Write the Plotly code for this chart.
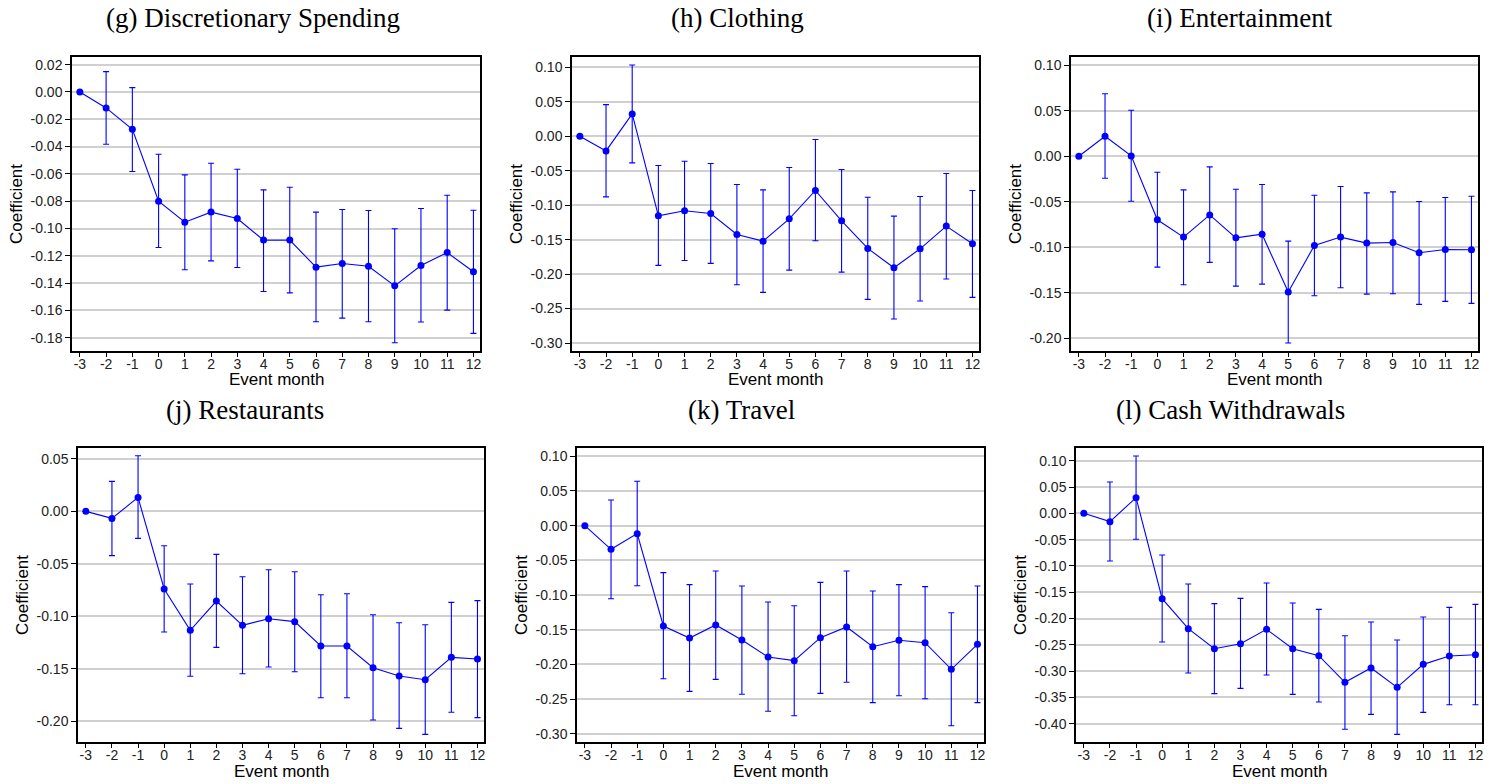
import plotly.graph_objects as go

W, H = 1497, 784

months = [-3, -2, -1, 0, 1, 2, 3, 4, 5, 6, 7, 8, 9, 10, 11, 12]
x_tick_text = ["-3", "-2", "-1", "0", "1", "2", "3", "4", "5", "6", "7", "8", "9", "10", "11", "12"]

titles = ["(g) Discretionary Spending", "(h) Clothing", "(i) Entertainment",
          "(j) Restaurants", "(k) Travel", "(l) Cash Withdrawals"]

# (g) Discretionary Spending
g_coef = [0, -0.0117, -0.0273, -0.080, -0.0954, -0.088, -0.0927, -0.1085, -0.1085, -0.1283, -0.1256, -0.1276, -0.1420, -0.1271, -0.1176, -0.1317]
g_up = [None, 0.0149, 0.0032, -0.0456, -0.0607, -0.0522, -0.0566, -0.0717, -0.0698, -0.0880, -0.0861, -0.0868, -0.1002, -0.0854, -0.0756, -0.0866]
g_lo = [None, -0.0383, -0.0583, -0.1139, -0.1302, -0.1237, -0.1285, -0.1461, -0.1471, -0.1683, -0.1656, -0.1683, -0.1837, -0.1685, -0.1598, -0.1768]
g_ticks = [0.02, 0.00, -0.02, -0.04, -0.06, -0.08, -0.10, -0.12, -0.14, -0.16, -0.18]

# (h) Clothing
h_coef = [0, -0.0213, 0.0324, -0.1155, -0.1082, -0.1121, -0.1425, -0.1522, -0.1198, -0.0787, -0.1227, -0.1628, -0.1908, -0.1633, -0.1304, -0.1560]
h_up = [None, 0.0459, 0.1034, -0.0425, -0.0362, -0.0396, -0.0700, -0.0778, -0.0454, -0.0048, -0.0483, -0.0884, -0.1159, -0.0874, -0.0541, -0.0787]
h_lo = [None, -0.0879, -0.0386, -0.1874, -0.1802, -0.1845, -0.2155, -0.2266, -0.1942, -0.1517, -0.1971, -0.2367, -0.2652, -0.2391, -0.2072, -0.2338]
h_ticks = [0.10, 0.05, 0.00, -0.05, -0.10, -0.15, -0.20, -0.25, -0.30]

# (i) Entertainment
i_coef = [0, 0.0219, 0.0004, -0.0698, -0.0888, -0.0644, -0.0896, -0.0856, -0.1492, -0.0980, -0.0888, -0.0954, -0.0947, -0.1060, -0.1024, -0.1027]
i_up = [None, 0.0687, 0.0505, -0.0176, -0.0369, -0.0117, -0.0362, -0.0311, -0.0932, -0.0428, -0.0333, -0.0402, -0.0391, -0.0497, -0.0453, -0.0439]
i_lo = [None, -0.0241, -0.0494, -0.1218, -0.1411, -0.1166, -0.1426, -0.1404, -0.2051, -0.1532, -0.1444, -0.1514, -0.1510, -0.1627, -0.1594, -0.1616]
i_ticks = [0.10, 0.05, 0.00, -0.05, -0.10, -0.15, -0.20]

# (j) Restaurants
j_coef = [0, -0.0067, 0.0133, -0.0740, -0.1134, -0.0855, -0.1086, -0.1023, -0.1051, -0.1283, -0.1283, -0.1490, -0.1569, -0.1604, -0.1391, -0.1407]
j_up = [None, 0.0286, 0.0530, -0.0327, -0.0692, -0.0410, -0.0623, -0.0556, -0.0575, -0.0794, -0.0785, -0.0985, -0.1061, -0.1080, -0.0867, -0.0851]
j_lo = [None, -0.0422, -0.0257, -0.1150, -0.1572, -0.1296, -0.1547, -0.1483, -0.1528, -0.1776, -0.1776, -0.1989, -0.2068, -0.2125, -0.1915, -0.1966]
j_ticks = [0.05, 0.00, -0.05, -0.10, -0.15, -0.20]

# (k) Travel
k_coef = [0, -0.0341, -0.0115, -0.1446, -0.1619, -0.1431, -0.1647, -0.1892, -0.1945, -0.1614, -0.1460, -0.1744, -0.1652, -0.1686, -0.2070, -0.1710]
k_up = [None, 0.0370, 0.0639, -0.0677, -0.0850, -0.0653, -0.0869, -0.1100, -0.1153, -0.0817, -0.0653, -0.0941, -0.0850, -0.0879, -0.1254, -0.0869]
k_lo = [None, -0.1052, -0.0865, -0.2205, -0.2387, -0.2214, -0.2430, -0.2675, -0.2738, -0.2416, -0.2257, -0.2550, -0.2450, -0.2493, -0.2882, -0.2550]
k_ticks = [0.10, 0.05, 0.00, -0.05, -0.10, -0.15, -0.20, -0.25, -0.30]

# (l) Cash Withdrawals
l_coef = [0, -0.0158, 0.0298, -0.1622, -0.2193, -0.2573, -0.2478, -0.2205, -0.2573, -0.2706, -0.3213, -0.2940, -0.3308, -0.2871, -0.2712, -0.2687]
l_up = [None, 0.0596, 0.1090, -0.0792, -0.1343, -0.1717, -0.1616, -0.1324, -0.1705, -0.1825, -0.2326, -0.2066, -0.2408, -0.1971, -0.1787, -0.1730]
l_lo = [None, -0.0906, -0.0494, -0.2446, -0.3035, -0.3428, -0.3327, -0.3074, -0.3441, -0.3587, -0.4106, -0.3821, -0.4202, -0.3783, -0.3638, -0.3638]
l_ticks = [0.10, 0.05, 0.00, -0.05, -0.10, -0.15, -0.20, -0.25, -0.30, -0.35, -0.40]

panels = [
    (g_coef, g_up, g_lo, g_ticks, (-0.1897, 0.0256)),
    (h_coef, h_up, h_lo, h_ticks, (-0.3116, 0.115)),
    (i_coef, i_up, i_lo, i_ticks, (-0.2139, 0.109)),
    (j_coef, j_up, j_lo, j_ticks, (-0.2198, 0.0604)),
    (k_coef, k_up, k_lo, k_ticks, (-0.3117, 0.1119)),
    (l_coef, l_up, l_lo, l_ticks, (-0.4347, 0.1242)),
]

# layout in pixels: (left, right, top, bottom) of plot areas
boxes = [
    (72, 480, 57, 351), (572, 979, 57, 351), (1071, 1478, 57, 351),
    (78, 484, 448, 742), (577, 984, 448, 742), (1076, 1482, 448, 742),
]
title_pos = [(253, 18), (737, 18), (1240, 18), (245, 410), (741, 410), (1230, 410)]

BLUE = "#0000ff"
TICKFONT = dict(family="Liberation Sans, Arial, sans-serif", size=14, color="#222222")

fig = go.Figure()
layout = dict(
    width=W, height=H, margin=dict(l=0, r=0, t=0, b=0),
    paper_bgcolor="white", plot_bgcolor="white", showlegend=False,
)
annotations = []

for idx, ((coef, up, lo, yt, yr), (L, R, T, B)) in enumerate(zip(panels, boxes)):
    n = idx + 1
    xa = "xaxis" if n == 1 else f"xaxis{n}"
    ya = "yaxis" if n == 1 else f"yaxis{n}"
    xr = "x" if n == 1 else f"x{n}"
    yr_ = "y" if n == 1 else f"y{n}"
    plus = [None if u is None else u - c for u, c in zip(up, coef)]
    minus = [None if l is None else c - l for l, c in zip(lo, coef)]
    fig.add_trace(go.Scatter(
        x=months, y=coef, mode="lines+markers", xaxis=xr, yaxis=yr_,
        line=dict(color=BLUE, width=1.1),
        marker=dict(color=BLUE, size=7),
        error_y=dict(type="data", array=plus, arrayminus=minus, symmetric=False,
                     color=BLUE, thickness=1.1, width=3),
    ))
    layout[xa] = dict(
        domain=[L / W, R / W], anchor=yr_, range=[-3.3, 12.25],
        tickvals=months, ticktext=x_tick_text, ticks="outside", ticklen=4,
        tickcolor="black", tickwidth=1, tickfont=TICKFONT, ticklabelstandoff=-5,
        showline=True, linecolor="black", linewidth=1.5, mirror=True,
        showgrid=False, zeroline=False,
    )
    layout[ya] = dict(
        domain=[1 - B / H, 1 - T / H], anchor=xr, range=list(yr),
        tickvals=yt, ticktext=[f"{v:.2f}" for v in yt], ticks="outside", ticklen=5,
        tickcolor="black", tickwidth=1, tickfont=TICKFONT,
        showline=True, linecolor="black", linewidth=1.5, mirror=True,
        showgrid=True, gridcolor="#d0d0d0", gridwidth=1.5, zeroline=False,
    )
    tx, ty = title_pos[idx]
    annotations.append(dict(
        text=titles[idx], x=tx / W, y=1 - ty / H, xref="paper", yref="paper",
        xanchor="center", yanchor="middle", showarrow=False,
        font=dict(family="Liberation Serif, serif", size=27, color="black"),
    ))
    annotations.append(dict(
        text="Event month", x=(L + R) / 2 / W, y=1 - (B + 29) / H, xref="paper", yref="paper",
        xanchor="center", yanchor="middle", showarrow=False,
        font=dict(family="Liberation Sans, Arial, sans-serif", size=17, color="black"),
    ))
    annotations.append(dict(
        text="Coefficient", x=(L - 56) / W, y=1 - (T + B) / 2 / H, xref="paper", yref="paper",
        xanchor="center", yanchor="middle", showarrow=False, textangle=-90,
        font=dict(family="Liberation Sans, Arial, sans-serif", size=17, color="black"),
    ))

layout["annotations"] = annotations
fig.update_layout(**layout)
fig.write_html("out.html")
